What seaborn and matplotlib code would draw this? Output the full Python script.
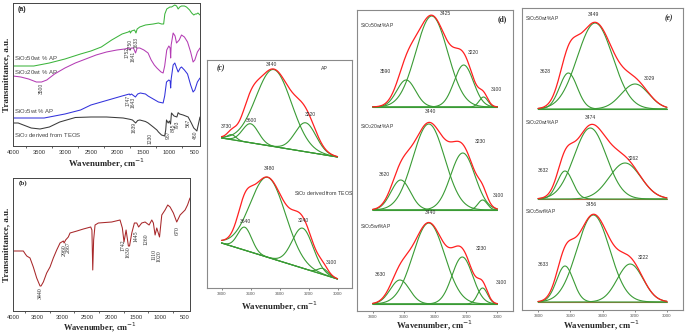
import numpy as np
import pandas as pd
import matplotlib
matplotlib.use("Agg")
import matplotlib.pyplot as plt
import seaborn as sns

sns.set_style("white")
SANS = ["Liberation Sans", "DejaVu Sans"]
SERIF = ["Liberation Serif", "DejaVu Serif"]
plt.rcParams["font.family"] = SANS

# ---------------- Panel (a): FTIR spectra (wavenumber, transmittance a.u.) ----------------
a_green_w = [4000, 3600, 3300, 3000, 2700, 2500, 2300, 2100, 1900, 1780, 1752, 1740, 1717, 1660, 1633, 1610,
             1560, 1450, 1300, 1200, 1140, 1100, 1077, 1040, 980, 948, 885, 850, 821, 790, 756, 700, 660,
             600, 560, 520, 490, 467, 440, 400]
a_green_t = [80, 80, 83, 87, 92, 95, 99, 106, 112, 114, 115, 113, 115, 116, 113, 117,
             119, 121, 122, 123, 122, 122, 132, 137, 139, 139, 141, 140, 137, 139, 140, 140, 139,
             136, 133, 131, 132, 132, 133, 131]
a_purple_w = [4000, 3850, 3700, 3550, 3450, 3350, 3200, 3000, 2800, 2600, 2400, 2200, 2000, 1850, 1770, 1752,
              1720, 1680, 1641, 1610, 1560, 1480, 1400, 1340, 1280, 1230, 1150, 1110, 1080, 1040, 1000,
              975, 965, 955, 917, 880, 852, 800, 756, 700, 640, 580, 533, 500, 450, 400]
a_purple_t = [70, 69, 67, 64, 64, 66, 72, 78, 83, 87, 91, 94, 96, 97, 98, 96,
              98, 98, 93, 98, 98, 96, 93, 86, 81, 78, 74, 73, 80, 96, 100,
              98, 88, 101, 113, 110, 103, 106, 111, 109, 104, 94, 84, 86, 94, 98]
a_blue_w = [4000, 3700, 3400, 3200, 3000, 2700, 2500, 2300, 2100, 1900, 1760, 1747, 1720, 1643, 1600, 1550,
            1450, 1400, 1300, 1200, 1110, 1080, 1045, 1000, 975, 965, 955, 917, 885, 850, 821, 780, 756,
            700, 640, 580, 533, 500, 450, 400]
a_blue_t = [28, 28, 28, 30, 32, 36, 41, 44, 47, 50, 52, 51, 52, 49, 52, 53,
            52, 50, 47, 44, 43, 50, 64, 66, 65, 58, 67, 81, 83, 78, 74, 78, 79,
            76, 72, 61, 54, 56, 64, 68]
a_black_w = [4000, 3900, 3800, 3650, 3480, 3300, 3100, 2968, 2800, 2500, 2200, 1879, 1750, 1700, 1639, 1600,
             1558, 1450, 1398, 1300, 1230, 1200, 1141, 1080, 1060, 1045, 1013, 990, 967, 949, 900, 845,
             821, 793, 725, 628, 567, 520, 460, 430, 400]
a_black_t = [23, 23, 21, 18, 17, 19, 24, 26, 28.5, 29, 29, 28, 26.7, 26, 23, 25.5,
             26, 24.5, 23, 19, 16, 14, 11, 10, 16, 26, 23, 25, 22, 33, 30, 29,
             33.3, 32, 31, 29, 23, 18, 15, 22, 29]
a_ticks = [4000, 3500, 3000, 2500, 2000, 1500, 1000, 500]
a_series = ["SiO$_2$50wt % AP", "SiO$_2$20wt % AP", "SiO$_2$5wt % AP", "SiO$_2$ derived from TEOS"]
a_peak_text = ["3500", "1752", "1750", "1641", "1633", "1747", "1643", "1639", "1230", "967", "845", "793", "567", "460"]
a_peak_w = [3461, 1805, 1740, 1690, 1632, 1786, 1690, 1670, 1362, 1016, 920, 843, 631, 496]
a_peak_y = [58, 94, 102, 90, 103, 46, 44, 19, 8, 11, 18, 21, 23, 11]

# ---------------- Panel (b): AP spectrum ----------------
b_w = [4000, 3790, 3750, 3720, 3654, 3587, 3518, 3450, 3430, 3383, 3315, 3247, 3180, 3111, 3043, 2976,
       2960, 2930, 2875, 2840, 2700, 2569, 2419, 2395, 2378, 2360, 2331, 2264, 1992, 1823, 1776, 1742,
       1700, 1653, 1630, 1584, 1531, 1483, 1445, 1382, 1313, 1260, 1232, 1177, 1145, 1110, 1076, 1020,
       974, 907, 853, 805, 738, 670, 601, 500, 450, 400]
b_t = [60, 60, 57, 55, 53, 44, 33, 25, 25, 29, 38, 44, 53, 61, 68, 70,
       68, 71, 74, 78, 80, 82, 84, 81, 41, 71, 86, 88, 89, 91, 83, 69,
       81, 65, 65, 78, 88, 88, 84, 88, 89, 87, 86, 91, 88, 76, 83, 74,
       96, 101, 106, 104, 98, 89, 96, 101, 106, 113]
b_peak_text = ["3440", "2960", "2867", "1742", "1630", "1445", "1260", "1110", "1020", "670"]
b_peak_w = [3451, 2963, 2881, 1757, 1655, 1490, 1295, 1133, 1030, 669]
b_peak_y = [18, 61, 64, 65.5, 59, 75, 72, 57, 55, 80]

# ---------------- Panels (c)-(e): Gaussian deconvolution of the OH band ----------------
fit_ticks = [3800, 3600, 3400, 3200, 3000]
# (c) AP (top) and SiO2 from TEOS (bottom); sloping linear baselines
c_top_base = (150, 131)
c_top_centers = [3730, 3600, 3440, 3220]
c_top_heights = [5, 19, 77, 29]
c_top_sigmas = [30, 55, 122, 72]
c_top_labels = ["3730", "3600", "3440", "3220"]
c_bot_base = (45, 9)
c_bot_centers = [3640, 3480, 3240, 3100]
c_bot_heights = [23, 80, 40, 6]
c_bot_sigmas = [48, 122, 72, 35]
c_bot_labels = ["3640", "3480", "3240", "3100"]

# (d) SiO2 50 / 20 / 5 wt% AP
d_bases = [204, 101, 7]
d_names = ["SiO$_2$50wt%AP", "SiO$_2$20wt%AP", "SiO$_2$5wt%AP"]
d_centers = [[3585, 3421, 3216, 3089], [3620, 3440, 3222, 3095], [3625, 3440, 3225, 3095]]
d_heights = [[27, 91, 42, 10], [30, 86, 57, 10], [24, 81, 47, 16]]
d_sigmas = [[60, 102, 62, 28], [62, 102, 78, 30], [62, 102, 66, 32]]
d_labels = [["3590", "3425", "3220", "3100"], ["3620", "3440", "3230", "3100"], ["3630", "3440", "3230", "3100"]]

# (e) SiO2 50 / 20 / 5 wt% AP
e_bases = [201, 111, 8]
e_names = ["SiO$_2$50wt%AP", "SiO$_2$20wt%AP", "SiO$_2$5wt%AP"]
e_centers = [[3612, 3446, 3198], [3633, 3476, 3260], [3633, 3457, 3228]]
e_heights = [[36, 86, 25], [28, 71, 36], [36, 87, 38]]
e_sigmas = [[55, 110, 85], [48, 100, 98], [52, 102, 80]]
e_labels = [["3628", "3449", "3029"], ["3632", "3474", "3262"], ["3633", "3456", "3222"]]

GREEN = "#3a9b35"
RED = "#ff2020"
W, H = 685, 333
fig = plt.figure(figsize=(W / 100, H / 100), dpi=100)


def px_axes(l, t, r, b):
    return fig.add_axes([l / W, 1 - b / H, (r - l) / W, (b - t) / H])


def line(ax, x, y, color, lw=0.8, z=2):
    df = pd.DataFrame({"x": x, "y": y})
    sns.lineplot(data=df, x="x", y="y", ax=ax, color=color, lw=lw, estimator=None, sort=False, zorder=z)


def spectrum_axes(ax, ticks):
    ax.set_xlim(4000, 400)
    ax.set_xticks(ticks)
    ax.set_xticks(np.arange(3750, 399, -500), minor=True)
    ax.set_yticks([])
    ax.tick_params(axis="x", which="major", length=2.2, width=0.6, labelsize=4.2, pad=1.0, colors="#333")
    ax.tick_params(axis="x", which="minor", length=1.4, width=0.5, bottom=True)
    for s in ax.spines.values():
        s.set_color("#444")
        s.set_linewidth(0.7)
    ax.set_xlabel("")
    ax.set_ylabel("Transmittance, a.u.", family=SERIF, fontweight="bold", fontsize=6.5, labelpad=2)


def xlabel(xp, yp, size=6.3):
    fig.text(xp / W, 1 - yp / H, "Wavenumber, cm$^{-1}$", family=SERIF, fontweight="bold", fontsize=size,
             ha="center", va="center")


# ---- (a)
axa = px_axes(13, 3, 200, 146)
for w_, t_, c_ in [(a_green_w, a_green_t, "#3cb43c"), (a_purple_w, a_purple_t, "#b43cb4"),
                   (a_blue_w, a_blue_t, "#3232dc"), (a_black_w, a_black_t, "#3a3a3a")]:
    line(axa, w_, t_, c_, lw=0.75)
axa.set_ylim(0, 143)
spectrum_axes(axa, a_ticks)
for name, fy in zip(a_series, [0.615, 0.517, 0.238, 0.07]):
    axa.text(0.008, fy, name, transform=axa.transAxes, fontsize=4.3, color="#444", va="center", ha="left")
axa.text(0.025, 0.958, "(a)", transform=axa.transAxes, fontsize=5, fontweight="bold", va="center")
for s_, w_, y_ in zip(a_peak_text, a_peak_w, a_peak_y):
    axa.text(w_, y_, s_, rotation=90, fontsize=3.6, color="#444", ha="center", va="center")
xlabel(107, 163)

# ---- (b)
axb = px_axes(13, 178, 190, 311)
line(axb, b_w, b_t, "#a8282a", lw=0.75)
axb.set_ylim(0, 133)
spectrum_axes(axb, a_ticks)
axb.text(0.03, 0.962, "(b)", transform=axb.transAxes, fontsize=5, fontweight="bold", family=SERIF, va="center")
for s_, w_, y_ in zip(b_peak_text, b_peak_w, b_peak_y):
    axb.text(w_, y_, s_, rotation=90, fontsize=4.2, family=SERIF, color="#333", ha="center", va="center")
xlabel(100, 327.5, size=6.0)


def fit_axes(ax, top):
    ax.set_xlim(3900, 2900)
    ax.set_ylim(0, top)
    ax.set_xticks(fit_ticks)
    ax.set_yticks([])
    ax.tick_params(axis="x", length=1.5, width=0.5, labelsize=3.2, pad=1.5, colors="#555", bottom=True)
    for s in ax.spines.values():
        s.set_color("#8a8a8a")
        s.set_linewidth(0.8)
    ax.set_xlabel("")
    ax.set_ylabel("")


def draw_fit(ax, base, centers, heights, sigmas, base_color=GREEN):
    x = np.linspace(3800, 3000, 321)
    b0, b1 = base
    bl = b0 + (b1 - b0) * (3800 - x) / 800.0
    total = bl.copy()
    line(ax, [3800, 3000], [b0, b1], base_color, lw=0.8)
    for c, h, s in zip(centers, heights, sigmas):
        g = h * np.exp(-((x - c) ** 2) / (2 * s ** 2))
        total = total + g
        line(ax, x, bl + g, GREEN, lw=0.8)
    line(ax, x, total, RED, lw=0.9, z=3)


# ---- (c)
axc = px_axes(207, 60, 352, 288)
draw_fit(axc, c_top_base, c_top_centers, c_top_heights, c_top_sigmas)
draw_fit(axc, c_bot_base, c_bot_centers, c_bot_heights, c_bot_sigmas)
fit_axes(axc, 228)
for s_, (lx, ly) in zip(c_top_labels, [(3769, 162), (3592, 167), (3452, 223.7), (3190, 173)]):
    axc.text(lx, ly, s_, fontsize=3.6, color="#333", ha="center", va="center")
for s_, (lx, ly) in zip(c_bot_labels, [(3638, 66.3), (3472, 119.7), (3236, 68), (3040, 25.3)]):
    axc.text(lx, ly, s_, fontsize=3.6, color="#333", ha="center", va="center")
axc.text(0.067, 0.964, "(c)", transform=axc.transAxes, fontsize=5.5, fontweight="bold", fontstyle="italic",
         family=SERIF, va="center")
axc.text(0.807, 0.964, "AP", transform=axc.transAxes, fontsize=3.8, color="#333", ha="center", va="center")
axc.text(0.600, 0.415, "SiO$_2$ derived from TEOS", transform=axc.transAxes, fontsize=3.8, color="#333",
         ha="left", va="center")
xlabel(280, 306)

# ---- (d)
axd = px_axes(357, 10, 513, 311)
for base, cs, hs, ss in zip(d_bases, d_centers, d_heights, d_sigmas):
    draw_fit(axd, (base, base), cs, hs, ss)
fit_axes(axd, 301)
d_label_pos = [[(3721, 239.3), (3336, 297.7), (3154, 258.3), (3004, 221.7)],
               [(3725, 136.7), (3426, 199.3), (3112, 169.3), (2994, 116)],
               [(3753, 36), (3426, 98.7), (3101, 62.7), (2972, 28.3)]]
for labs, poss in zip(d_labels, d_label_pos):
    for s_, (lx, ly) in zip(labs, poss):
        axd.text(lx, ly, s_, fontsize=3.6, color="#333", ha="center", va="center")
for name, fy in zip(d_names, [0.950, 0.612, 0.282]):
    axd.text(0.02, fy, name, transform=axd.transAxes, fontsize=3.6, color="#333", ha="left", va="center")
axd.text(0.928, 0.970, "(d)", transform=axd.transAxes, fontsize=5.5, fontweight="bold", family=SERIF,
         ha="center", va="center")
xlabel(435, 325)

# ---- (e)
axe = px_axes(522, 8, 683, 310)
for i, (base, cs, hs, ss) in enumerate(zip(e_bases, e_centers, e_heights, e_sigmas)):
    draw_fit(axe, (base, base), cs, hs, ss, base_color=GREEN if i == 0 else "#b06a40")
fit_axes(axe, 302)
e_label_pos = [[(3757, 238.3), (3457, 295), (3109, 231)],
               [(3768, 140), (3478, 192.7), (3209, 151.7)],
               [(3768, 45.7), (3467, 105), (3147, 52.7)]]
for labs, poss in zip(e_labels, e_label_pos):
    for s_, (lx, ly) in zip(labs, poss):
        axe.text(lx, ly, s_, fontsize=3.6, color="#333", ha="center", va="center")
for name, fy in zip(e_names, [0.964, 0.622, 0.325]):
    axe.text(0.02, fy, name, transform=axe.transAxes, fontsize=3.6, color="#333", ha="left", va="center")
axe.text(0.909, 0.966, "(e)", transform=axe.transAxes, fontsize=5.5, fontweight="bold", fontstyle="italic",
         family=SERIF, ha="center", va="center")
xlabel(602, 325)

fig.savefig("out.png", dpi=100)
